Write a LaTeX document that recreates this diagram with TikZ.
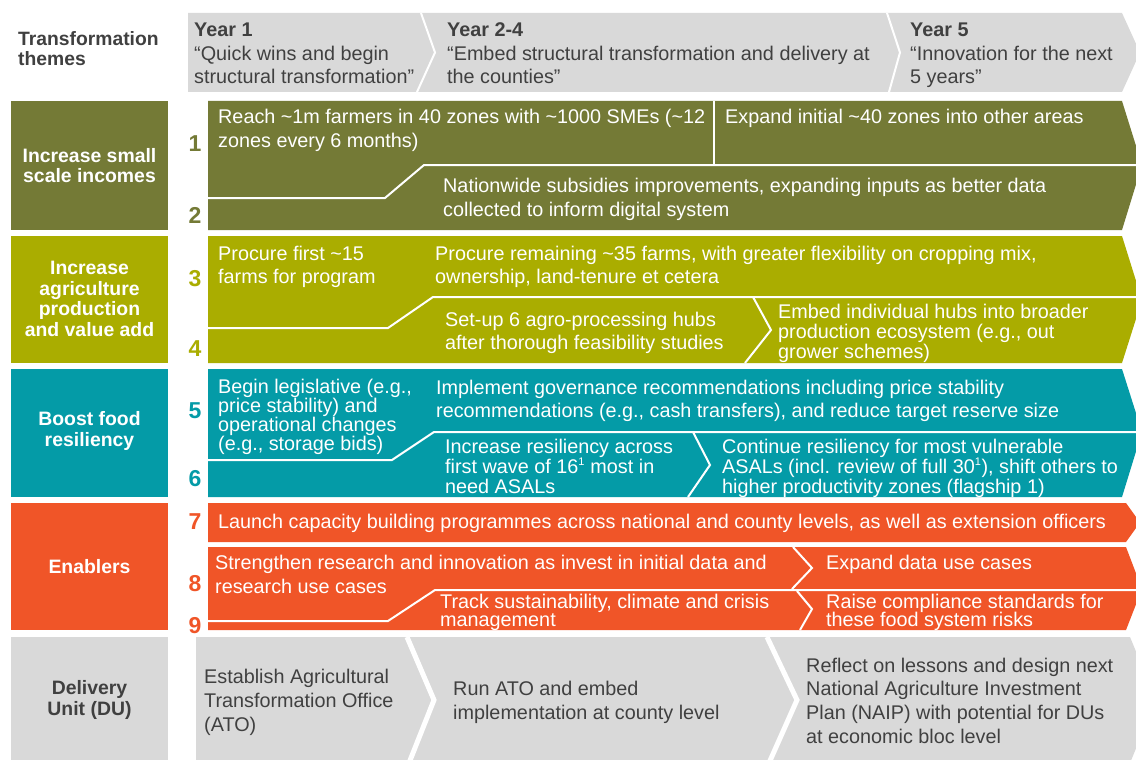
\documentclass[tikz,border=0pt]{standalone}
\usepackage{fontspec}
\setmainfont{Liberation Sans}
\definecolor{cOlive}{HTML}{747A36}
\definecolor{cLime}{HTML}{AAAD00}
\definecolor{cTeal}{HTML}{049BA7}
\definecolor{cOrange}{HTML}{F05528}
\definecolor{cGrey}{HTML}{D9D9D9}
\definecolor{cText}{HTML}{404040}
\newcommand\mlt[1]{\vtop{\lineskiplimit=-\maxdimen\let\\\cr\halign{##\hfil\cr#1\crcr}}}
\newcommand\supone{\textsuperscript{\fontsize{11}{11}\selectfont 1}}
\tikzset{
  body/.style={anchor=base west, inner sep=0pt, text=white, font=\fontsize{19.8}{24}\selectfont},
  tight/.style={body, font=\fontsize{19.8}{20}\selectfont},
  dark/.style={text=cText},
  theme/.style={anchor=center, inner sep=0pt, align=center, text=white, font=\fontsize{19.4}{20.5}\selectfont\bfseries},
  num/.style={anchor=base, inner sep=0pt, font=\fontsize{23}{23}\selectfont\bfseries},
  sepw/.style={draw=white, line width=2pt},
  sepg/.style={draw=white, line width=5pt}
}
\begin{document}
\begin{tikzpicture}[x=1pt,y=-1pt]
\useasboundingbox (0,0) rectangle (1136,760);
\fill[white] (0,0) rectangle (1136,760);

% ---------- header ----------
\fill[cGrey] (188,13) -- (1122,13) -- (1140,52.5) -- (1122,92) -- (188,92) -- cycle;
\draw[sepw] (421,13) -- (435,52.5) -- (417,92);
\draw[sepw] (887,13) -- (900,52.5) -- (889,92);
\node[body, dark, font=\fontsize{19.3}{20}\selectfont\bfseries] (themes) at (18,46) {\mlt{Transformation\\themes}};
\node[body, dark, font=\fontsize{19.8}{23.5}\selectfont] (y1) at (194,37) {\mlt{\textbf{Year 1}\\“Quick wins and begin\\structural transformation”}};
\node[body, dark, font=\fontsize{19.8}{23.5}\selectfont] (y24) at (447,37) {\mlt{\textbf{Year 2-4}\\“Embed structural transformation and delivery at\\the counties”}};
\node[body, dark, font=\fontsize{19.8}{23.5}\selectfont] (y5) at (910,37) {\mlt{\textbf{Year 5}\\“Innovation for the next\\5 years”}};

% ---------- left theme boxes ----------
\fill[cOlive] (11,101) rectangle (168,230);
\fill[cLime] (11,236) rectangle (168,363);
\fill[cTeal] (11,369) rectangle (168,497);
\fill[cOrange] (11,503) rectangle (168,630);
\fill[cGrey] (11,637) rectangle (168,760);
\node[theme] (t1) at (89.5,165.5) {Increase small\\scale incomes};
\node[theme] (t2) at (89.5,299) {Increase\\agriculture\\production\\and value add};
\node[theme] (t3) at (89.5,431) {Boost food\\resiliency};
\node[theme] (t4) at (89.5,566.5) {Enablers};
\node[theme, dark] (t5) at (89.5,700) {Delivery\\Unit (DU)};

% ---------- numbers ----------
\node[num, text=cOlive] (n1) at (195,151) {1};
\node[num, text=cOlive] (n2) at (195,223) {2};
\node[num, text=cLime] (n3) at (195,286) {3};
\node[num, text=cLime] (n4) at (195,356) {4};
\node[num, text=cTeal] (n5) at (195,418) {5};
\node[num, text=cTeal] (n6) at (195,486) {6};
\node[num, text=cOrange] (n7) at (195,529) {7};
\node[num, text=cOrange] (n8) at (195,591) {8};
\node[num, text=cOrange] (n9) at (195,633) {9};

% ---------- olive section ----------
\fill[cOlive] (208,101) -- (1122,101) -- (1142,165) -- (1122,230) -- (208,230) -- cycle;
\draw[sepw] (714,101) -- (714,165);
\draw[sepw] (208,198) -- (385,198) -- (424,165) -- (1142,165);
\node[body] (a1) at (218,124) {\mlt{Reach \textasciitilde1m farmers in 40 zones with \textasciitilde1000 SMEs (\textasciitilde12\\zones every 6 months)}};
\node[body] (a2) at (725,124) {Expand initial \textasciitilde40 zones into other areas};
\node[body] (a3) at (443,192) {\mlt{Nationwide subsidies improvements, expanding inputs as better data\\collected to inform digital system}};

% ---------- lime section ----------
\fill[cLime] (208,236) -- (1122,236) -- (1142,300) -- (1122,363) -- (208,363) -- cycle;
\draw[sepw] (208,328) -- (388,328) -- (433,297) -- (1142,297);
\draw[sepw] (753,297) -- (771,330) -- (745,363);
\node[body, font=\fontsize{19.8}{23}\selectfont] (b1) at (218,260) {\mlt{Procure first \textasciitilde15\\farms for program}};
\node[body, font=\fontsize{19.8}{23}\selectfont] (b2) at (435,260) {\mlt{Procure remaining \textasciitilde35 farms, with greater flexibility on cropping mix,\\ownership, land-tenure et cetera}};
\node[body, font=\fontsize{19.8}{23}\selectfont] (b3) at (445,326) {\mlt{Set-up 6 agro-processing hubs\\after thorough feasibility studies}};
\node[tight] (b4) at (778,318) {\mlt{Embed individual hubs into broader\\production ecosystem (e.g., out\\grower schemes)}};

% ---------- teal section ----------
\fill[cTeal] (208,369) -- (1122,369) -- (1142,432) -- (1122,497) -- (208,497) -- cycle;
\draw[sepw] (208,460) -- (392,460) -- (434,432) -- (1142,432);
\draw[sepw] (693,432) -- (710,465) -- (688,497);
\node[body, font=\fontsize{19.8}{19}\selectfont] (c1) at (218,393) {\mlt{Begin legislative (e.g.,\\price stability) and\\operational changes\\(e.g., storage bids)}};
\node[body, font=\fontsize{19.8}{23}\selectfont] (c2) at (436,394) {\mlt{Implement governance recommendations including price stability\\recommendations (e.g., cash transfers), and reduce target reserve size}};
\node[tight] (c3) at (445,453) {\mlt{Increase resiliency across\\first wave of 16\supone\ most in\\need ASALs}};
\node[tight] (c4) at (722,453) {\mlt{Continue resiliency for most vulnerable\\ASALs (incl. review of full 30\supone), shift others to\\higher productivity zones (flagship 1)}};

% ---------- orange section ----------
\fill[cOrange] (208,503) -- (1126,503) -- (1140,522.5) -- (1126,542) -- (208,542) -- cycle;
\fill[cOrange] (208,547) -- (1126,547) -- (1142,589) -- (1126,630) -- (208,630) -- cycle;
\draw[sepw] (208,621) -- (388,621) -- (435,590) -- (1142,590);
\draw[sepw] (793,547) -- (812,568) -- (792,589);
\draw[sepw] (797,591) -- (812,609) -- (800,630);
\node[body] (d1) at (218,528) {Launch capacity building programmes across national and county levels, as well as extension officers};
\node[body] (d2) at (215,569) {\mlt{Strengthen research and innovation as invest in initial data and\\research use cases}};
\node[body] (d3) at (826,569) {Expand data use cases};
\node[body, font=\fontsize{19.8}{18}\selectfont] (d4) at (440,608) {\mlt{Track sustainability, climate and crisis\\management}};
\node[body, font=\fontsize{19.8}{18}\selectfont] (d5) at (826,608) {\mlt{Raise compliance standards for\\these food system risks}};

% ---------- delivery unit ----------
\fill[cGrey] (196,637) -- (1130,637) -- (1156,700) -- (1130,763) -- (196,763) -- cycle;
\draw[sepg] (407,637) -- (434,700) -- (409,763);
\draw[sepg] (767,637) -- (797,700) -- (769,763);
\node[body, dark] (e1) at (204,683) {\mlt{Establish Agricultural\\Transformation Office\\(ATO)}};
\node[body, dark] (e2) at (453,695) {\mlt{Run ATO and embed\\implementation at county level}};
\node[body, dark, font=\fontsize{19.8}{23.7}\selectfont] (e3) at (806,672) {\mlt{Reflect on lessons and design next\\National Agriculture Investment\\Plan (NAIP) with potential for DUs\\at economic bloc level}};
\end{tikzpicture}
\end{document}
